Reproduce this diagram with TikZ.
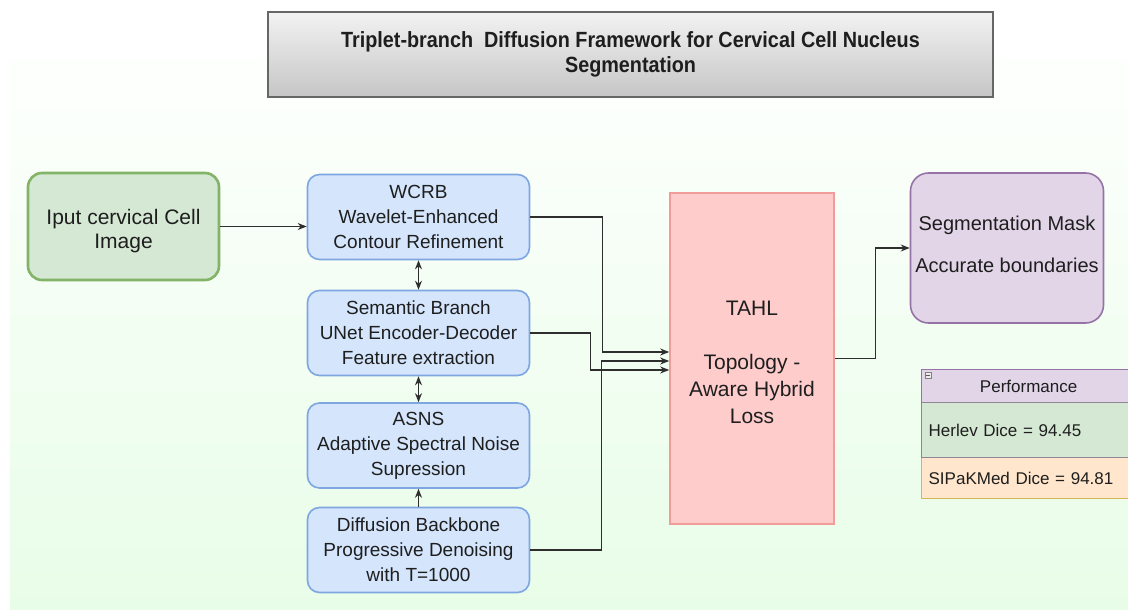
\documentclass[tikz,border=0pt]{standalone}
\usepackage{fontspec}
\setmainfont{Liberation Sans}
\newfontfamily\titlefont[FakeStretch=0.9]{Liberation Sans}
\usetikzlibrary{arrows.meta}
\definecolor{bgbot}{HTML}{E8FDE8}
\definecolor{grnfill}{HTML}{D5E8D4}
\definecolor{grnline}{HTML}{82B366}
\definecolor{blufill}{HTML}{D4E5FC}
\definecolor{bluline}{HTML}{7EA6E0}
\definecolor{redfill}{HTML}{FFCCCC}
\definecolor{redline}{HTML}{F19C99}
\definecolor{purfill}{HTML}{E1D5E7}
\definecolor{purline}{HTML}{9673A6}
\definecolor{orgfill}{HTML}{FFE6CC}
\definecolor{orgline}{HTML}{D6B656}
\definecolor{txt}{HTML}{1E1E1E}
\definecolor{conline}{HTML}{2E2E2E}
\begin{document}
\begin{tikzpicture}[x=1pt,y=-1pt,
  every node/.style={text=txt, inner sep=0pt},
  bluebox/.style={draw=bluline, fill=blufill, line width=1.6pt, rounded corners=12pt,
    minimum width=222pt, minimum height=85pt, align=center,
    font=\fontsize{19}{25}\selectfont},
  conn/.style={draw=conline, line width=1.3pt, -{Stealth[length=9pt,width=7pt]}},
  dconn/.style={draw=conline, line width=1.3pt, {Stealth[length=9pt,width=7pt]}-{Stealth[length=9pt,width=7pt]}},
  cell/.style={line width=1.3pt, minimum width=214pt, anchor=north west, text width=200pt,
    font=\fontsize{17}{20}\selectfont}
]
\useasboundingbox (0,0) rectangle (1128,610);
\shade[top color=white, bottom color=bgbot] (10,20) rectangle (1128,610);

% title
\node[draw=gray!80!black, line width=1.2pt, top color=gray!10, bottom color=gray!45,
  minimum width=725pt, minimum height=85pt, align=center,
  font=\titlefont\bfseries\fontsize{22}{25}\selectfont] (title) at (630.5,54.5)
  {Triplet-branch\ \ Diffusion Framework for Cervical Cell Nucleus\\Segmentation};

% input
\node[draw=grnline, fill=grnfill, line width=2.6pt, rounded corners=14pt,
  minimum width=191pt, minimum height=107pt] (inp) at (123.5,226.5) {};
\node[align=center, font=\fontsize{21}{24}\selectfont] (inptxt) at (123.5,231.5)
  {Iput cervical Cell\\Image};

% branch boxes
\node[bluebox] (wcrb) at (418.5,217) {WCRB\\Wavelet-Enhanced\\Contour Refinement};
\node[bluebox] (sem) at (418.5,333) {Semantic Branch\\UNet Encoder-Decoder\\Feature extraction};
\node[bluebox] (asns) at (418.5,445.5) {ASNS\\Adaptive Spectral Noise\\Supression};
\node[bluebox] (diff) at (418.5,550) {Diffusion Backbone\\Progressive Denoising\\with T=1000};

% TAHL
\node[draw=redline, fill=redfill, line width=1.6pt, minimum width=164pt, minimum height=331pt]
  (tahl) at (752,358.5) {};
\node[align=center, font=\fontsize{21}{27}\selectfont] (tahltxt) at (752,362.5)
  {TAHL\\[27pt]Topology -\\Aware Hybrid\\Loss};

% segmentation
\node[draw=purline, fill=purfill, line width=1.6pt, rounded corners=18pt,
  minimum width=193pt, minimum height=150pt] (seg) at (1007,248) {};
\node[align=center, font=\fontsize{20}{24}\selectfont] (segtxt) at (1007,244)
  {Segmentation Mask\\[18pt]Accurate boundaries};

% performance table
\node[cell, draw=purline, fill=purfill, minimum height=33pt, align=center] (perfh) at (921,369)
  {Performance};
\node[cell, draw=orgline, fill=orgfill, minimum height=41pt, align=left] (perfb) at (921,457)
  {SIPaKMed Dice = 94.81};
\node[cell, draw=purline!70!grnline, fill=grnfill, minimum height=55pt, align=left] (perfa) at (921,402)
  {Herlev Dice = 94.45};
\node[draw=gray, fill=gray!15, line width=0.5pt, minimum width=6pt, minimum height=6pt] (minus) at (928,375) {};
\draw[gray!70!black, line width=0.8pt] (minus.west) ++(1.2pt,0) -- ([xshift=-1.2pt]minus.east);

% connectors
\draw[conn] (inp.east) -- (inp.east -| wcrb.west);
\draw[dconn] (wcrb.south) -- (sem.north);
\draw[dconn] (sem.south) -- (asns.north);
\draw[conn] (diff.north) -- (asns.south);
\draw[conn] (wcrb.east) -- ++(72,0) |- ([yshift=6.5pt]tahl.west);
\draw[conn] (sem.east) -- ++(60,0) |- ([yshift=-11.5pt]tahl.west);
\draw[conn] (diff.east) -- ++(71,0) |- ([yshift=-2.5pt]tahl.west);
\draw[conn] (tahl.east) -- ++(41,0) |- (seg.west);
\end{tikzpicture}
\end{document}
